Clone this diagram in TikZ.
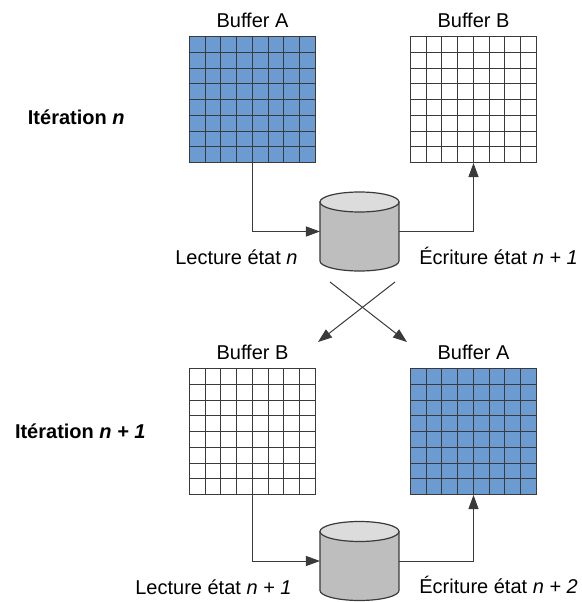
\documentclass[tikz,border=0pt]{standalone}
\usepackage{fontspec}
\setmainfont{Liberation Sans}
\usetikzlibrary{arrows.meta,positioning}
\definecolor{bufblue}{HTML}{6C9BD2}
\definecolor{griddark}{HTML}{3A3A3A}
\definecolor{drumbody}{HTML}{BEBEBE}
\definecolor{drumtop}{HTML}{DCDCDC}

\begin{document}
\begin{tikzpicture}[node distance=1cm]
	\tikzstyle{buf_w}=[draw=griddark, rectangle, line width=0.5pt, inner sep=0pt, minimum size=63pt,
		path picture={\draw[griddark, line width=0.5pt, step=7.875pt] (-31.5pt,-31.5pt) grid (31.5pt,31.5pt);}]
	\tikzstyle{buf_b}=[buf_w, fill=bufblue]
	\tikzstyle{cyl}=[rectangle, inner sep=0pt, outer sep=-0.35pt, minimum size=40.2pt,
		path picture={
			\draw[griddark, line width=0.6pt, fill=drumbody] (-19.75pt,14.75pt) -- (-19.75pt,-14.75pt)
				arc[start angle=180, end angle=360, x radius=19.75pt, y radius=5pt] -- (19.75pt,14.75pt) -- cycle;
			\draw[griddark, line width=0.6pt, fill=drumtop] (0pt,14.75pt) ellipse[x radius=19.75pt, y radius=5pt];
		}]
	\tikzstyle{txt}=[inner sep=0pt, font=\fontsize{10pt}{12pt}\selectfont]
	\tikzstyle{iter}=[txt, font=\fontsize{10pt}{12pt}\selectfont\bfseries]
	\tikzstyle{arr}=[griddark, line width=0.5pt, -{Triangle[length=7pt,width=5pt]}]

	\useasboundingbox (0,0) rectangle (291pt,301pt);

	\node[buf_b] (bufa1) at (126.25pt,251.25pt) {};
	\node[buf_w] (bufb1) [right=47pt of bufa1] {};
	\node[buf_w] (bufb2) [below=102.5pt of bufa1] {};
	\node[buf_b] (bufa2) [below=102.5pt of bufb1] {};

	\node[txt] (titlea1) [above=4pt of bufa1] {Buffer A};
	\node[txt] (titleb1) [above=4pt of bufb1] {Buffer B};
	\node[txt] (titleb2) [above=4pt of bufb2] {Buffer B};
	\node[txt] (titlea2) [above=4pt of bufa2] {Buffer A};

	\node[cyl] (cyl1) at (179.75pt,185.25pt) {};
	\node[cyl] (cyl2) at (179.75pt,20.5pt) {};

	\node[txt] (lect1) [left=11pt of cyl1, yshift=-13pt] {Lecture état \textit{n}};
	\node[txt] (ecr1) [right=10pt of cyl1, yshift=-12.2pt] {Écriture état \textit{n + 1}};
	\node[txt] (lect2) [left=14pt of cyl2, yshift=-13pt] {Lecture état \textit{n + 1}};
	\node[txt] (ecr2) [right=10pt of cyl2, yshift=-12.2pt] {Écriture état \textit{n + 2}};

	\node[iter] (iter1) [left=32pt of bufa1, yshift=-9pt] {Itération \textit{n}};
	\node[iter] (iter2) [left=21.5pt of bufb2] {Itération \textit{n + 1}};

	\coordinate (crossl) at (165pt,160pt);
	\coordinate (crossr) at (197.5pt,160pt);
	\coordinate (tipl) at (159pt,130pt);
	\coordinate (tipr) at (203.5pt,130pt);

	\draw[arr] (bufa1) |- (cyl1);
	\draw[arr] (cyl1) -| (bufb1);
	\draw[arr] (bufb2) |- (cyl2);
	\draw[arr] (cyl2) -| (bufa2);

	\draw[arr] (crossr) -- (tipl);
	\draw[arr] (crossl) -- (tipr);
\end{tikzpicture}
\end{document}
